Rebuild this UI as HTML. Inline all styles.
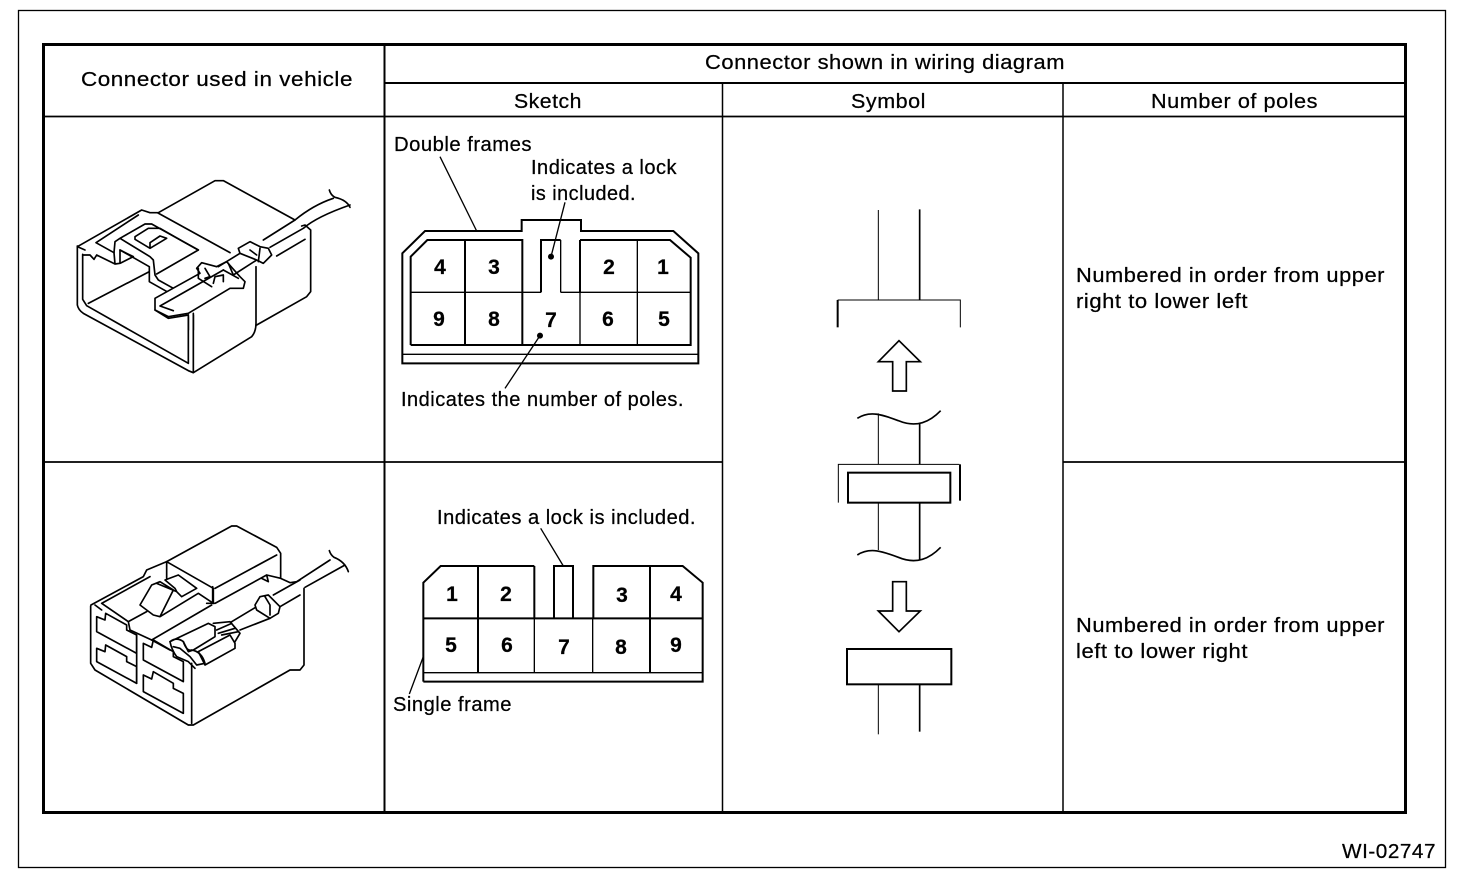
<!DOCTYPE html>
<html><head><meta charset="utf-8"><style>
html,body{margin:0;padding:0;background:#fff}
svg{display:block}
text{font-family:"Liberation Sans",sans-serif;fill:#000;font-size:20px;stroke:#000;stroke-width:.25;letter-spacing:.5px}
.n{font-weight:bold;font-size:21px;text-anchor:middle;letter-spacing:0}
.t{fill:none;stroke:#000;stroke-width:5;stroke-linejoin:round;stroke-linecap:round}
.w{fill:#fff;stroke:#000;stroke-width:5;stroke-linejoin:round;stroke-linecap:round}
.s{fill:none;stroke:#000;stroke-width:4}
.h{fill:none;stroke:#000;stroke-width:6}
.m{fill:none;stroke:#000;stroke-width:5}
.l{fill:none;stroke:#000;stroke-width:3}
</style></head><body>
<svg width="1472" height="882" viewBox="0 0 1472 882" xmlns="http://www.w3.org/2000/svg">
<rect width="1472" height="882" fill="#fff"/>
<rect x="18.5" y="10.5" width="1427" height="857" fill="none" stroke="#000" stroke-width="1.3"/>
<rect x="43.5" y="44.5" width="1362" height="768" fill="none" stroke="#000" stroke-width="3"/>
<g stroke="#000" fill="none">
<path d="M384.5 44V813" stroke-width="2"/>
<path d="M722.5 83V813M1063 83V813" stroke-width="1.5"/>
<path d="M384 83H1406" stroke-width="2"/>
<path d="M43 116.500H1406" stroke-width="1.700"/>
<path d="M43 462H722M1063 462H1406" stroke-width="1.700"/>
</g>
<text x="81" y="86" textLength="272" lengthAdjust="spacingAndGlyphs">Connector used in  vehicle</text>
<text x="705" y="69" textLength="360" lengthAdjust="spacingAndGlyphs">Connector shown in wiring diagram</text>
<text x="514" y="108" textLength="68" lengthAdjust="spacingAndGlyphs">Sketch</text>
<text x="851" y="108" textLength="75" lengthAdjust="spacingAndGlyphs">Symbol</text>
<text x="1151" y="108" textLength="167" lengthAdjust="spacingAndGlyphs">Number of poles</text>
<text x="1076" y="282" textLength="309" lengthAdjust="spacingAndGlyphs">Numbered in order from upper</text>
<text x="1076" y="308" textLength="172" lengthAdjust="spacingAndGlyphs">right to lower left</text>
<text x="1076" y="632" textLength="309" lengthAdjust="spacingAndGlyphs">Numbered in order from upper</text>
<text x="1076" y="658" textLength="172" lengthAdjust="spacingAndGlyphs">left to lower right</text>
<text x="1342" y="858" textLength="94" lengthAdjust="spacingAndGlyphs">WI-02747</text>

<!-- connector 1 -->
<g transform="translate(50,160) scale(.33333)">
<path class="t" d="M82 258V435Q85 450 100 460L415 632L430 638L605 530Q618 515 618 490V320"/>
<path class="t" d="M98 283V418L110 437L415 610V465M430 638V465"/>
<path class="t" d="M325 158L495 62H520L735 180"/>
<path class="t" d="M680 288L765 238M755 198L765 195L782 210V395L770 410L620 495"/>
<path class="t" d="M640 240L735 180Q790 135 850 115M660 262L760 205Q800 170 900 135M838 90Q842 105 855 112Q890 120 900 142"/>
</g>
<g transform="translate(70,200) scale(.33333)">
<path class="t" d="M22 140L215 30L240 38L262 38L480 158"/>
<path class="t" d="M40 165H60L72 178L80 165L135 192L150 190L190 170L150 150V190M135 192L132 158L78 128L205 45"/>
<path class="t" d="M132 158L135 125L150 115L225 72H245L385 150L260 222M150 115L240 170L250 180L255 225L265 240L310 265"/>
<path class="t" d="M150 150L238 200V245L300 280M55 310L238 215"/>
<path class="t" d="M195 110L235 85H270L340 125L385 150M195 110V118L240 145L290 115L270 108L240 128V143"/>
<path class="t" d="M22 140L45 150"/>
</g>
<g transform="translate(150,220) scale(.33333)">
<path class="w" d="M15 235L150 160L140 145L155 128L200 140L230 125L270 170L285 185L280 205L240 205L115 280L55 290L15 270Z"/>
<path class="t" d="M30 258L220 150M30 258L70 272M15 270L55 295L115 285"/>
<path class="t" d="M145 145V175L185 200M165 145L180 170L165 175M190 190L195 170L220 165V185M220 150L265 175M235 130L250 165"/>
<path class="t" d="M205 140L270 100M250 165L320 120"/>
<path class="w" d="M265 85L300 65L330 80L355 85L365 105L340 130L320 120L270 100Z"/>
<path class="t" d="M330 85L325 125M300 90L320 105"/>
<path class="t" d="M130 280V330M115 290V330"/>
</g>

<!-- connector 2 -->
<g transform="translate(50,510) scale(.33333)">
<path class="t" d="M122 288V460L135 480L415 645H430L720 480H750L762 465V235"/>
<path class="t" d="M425 460V640"/>
<path class="t" d="M350 155L545 48H560L680 112L692 130V205L650 195L495 280H470M495 235L680 135M692 205L720 218L740 215L840 150M650 195L655 215L635 205M488 230V280"/>
<path class="t" d="M765 232L885 165M838 122Q842 135 852 142Q885 155 895 185"/>
</g>
<g transform="translate(85,560) scale(.33333)">
<path class="t" d="M18 135L175 50L185 30L245 5L385 85V130M245 5V55M30 135L50 150M50 130L195 50M50 130L130 185L135 210L200 240L380 135M130 185L185 155"/>
<path class="t" d="M165 135L200 75L225 65L265 90L225 170L205 165ZM215 70L275 95L270 85L240 60L280 45L335 85L290 110L275 95M225 170L340 100L385 130"/>
<path class="t" d="M35 170L60 180L62 160L125 195V210L155 225V280L35 215ZM35 265L60 275L62 255L125 290V305L155 320V370L35 305Z"/>
<path class="t" d="M175 250L200 262L205 240L265 275V290L295 305V365L175 300Z"/>
<path class="t" d="M175 345L200 357L205 335L265 370V385L295 400V460L175 395Z"/>
<path class="t" d="M155 225V370M200 240L255 270"/>
</g>
<g transform="translate(160,590) scale(.33333)">
<path class="w" d="M30 155L145 100L165 110V140L100 180L85 185L70 155Q50 140 30 155Z"/>
<path class="w" d="M115 185L210 135L225 160V175L135 225Q125 205 115 185Z"/>
<path class="t" d="M30 155Q35 180 50 200L85 215L105 235M70 155Q80 185 95 180Q125 185 135 220L110 225L90 200L60 175L40 170"/>
<path class="t" d="M160 100L210 95L240 130L225 155M170 120L215 100M175 130L225 115M185 135L235 125"/>
<path class="t" d="M215 95L290 50M240 120L330 85"/>
<path class="w" d="M285 45L300 20L325 15L360 50L355 70L330 85L290 60Z"/>
<path class="t" d="M315 20L330 45V75M340 15L420 -30M360 50L420 15"/>
</g>

<!-- sketch 1 -->
<g transform="translate(390,125) scale(.33333)">
<path class="h" d="M37 715V385L105 318H395V285H573V318H850L925 385V715Z"/>
<path class="s" d="M37 688H925M62 502H453M512 502H902M570 502V660M742 345V660"/>
<path class="h" d="M62 660V395L112 345H397V660M570 345H840L902 398V660H62M225 345V660M570 345V502M453 502V345H512"/>
<path class="s" d="M512 345V502M150 95L260 318M525 232L483 395M345 790L450 632"/>
<circle cx="483" cy="395" r="9"/><circle cx="450" cy="632" r="9"/>
</g>
<text class="n" x="440" y="274">4</text><text class="n" x="494" y="274">3</text><text class="n" x="609" y="274">2</text><text class="n" x="663" y="274">1</text>
<text class="n" x="439" y="326">9</text><text class="n" x="494" y="326">8</text><text class="n" x="551" y="327">7</text><text class="n" x="608" y="326">6</text><text class="n" x="664" y="326">5</text>
<text x="394" y="151" textLength="138" lengthAdjust="spacingAndGlyphs">Double frames</text>
<text x="531" y="174" textLength="146" lengthAdjust="spacingAndGlyphs">Indicates a lock</text>
<text x="531" y="200" textLength="105" lengthAdjust="spacingAndGlyphs">is included.</text>
<text x="401" y="406" textLength="283" lengthAdjust="spacingAndGlyphs">Indicates the number of poles.</text>

<!-- sketch 2 -->
<g transform="translate(390,500) scale(.33333)">
<path class="h" d="M100 545V248L152 198H433M610 355V198H878L938 248V545H100M100 355H938M264 198V518M780 198V518M433 198V355M492 355V198H549V355"/>
<path class="s" d="M100 518H938M433 355V518M608 355V518"/>
<path class="s" d="M452 85L520 198M100 470L58 582"/>
</g>
<text class="n" x="452" y="601">1</text><text class="n" x="506" y="601">2</text><text class="n" x="622" y="602">3</text><text class="n" x="676" y="601">4</text>
<text class="n" x="451" y="652">5</text><text class="n" x="507" y="652">6</text><text class="n" x="564" y="654">7</text><text class="n" x="621" y="654">8</text><text class="n" x="676" y="652">9</text>
<text x="437" y="524" textLength="259" lengthAdjust="spacingAndGlyphs">Indicates a lock is included.</text>
<text x="393" y="711" textLength="119" lengthAdjust="spacingAndGlyphs">Single frame</text>

<!-- symbol -->
<g transform="translate(820,200) scale(.33333)">
<path class="l" d="M175 30V300M175 640V792M175 908V1050"/>
<path class="m" d="M299 28V300M299 670V792M299 908V1080"/>
<path class="l" d="M53 300H421V382"/>
<path class="h" d="M53 300V382"/>
<path class="m" d="M175 485L237 422L301 485H259V573H218V485Z"/>
<path class="m" d="M112 655C150 630 190 645 235 662C290 685 330 665 362 632"/>
<path class="l" d="M55 908V793H418"/>
<path class="h" d="M420 793V902"/>
<rect x="84" y="818" width="307" height="90" fill="none" stroke="#000" stroke-width="6"/>
<path class="m" d="M112 1065C150 1040 190 1055 235 1072C290 1095 330 1075 362 1042"/>
<path class="m" d="M175 1233L237 1295L301 1233H259V1145H218V1233Z"/>
<rect x="81" y="1347" width="313" height="106" fill="none" stroke="#000" stroke-width="6"/>
<path class="l" d="M175 1453V1603"/>
<path class="m" d="M299 1453V1595"/>
</g>
</svg>
</body></html>
